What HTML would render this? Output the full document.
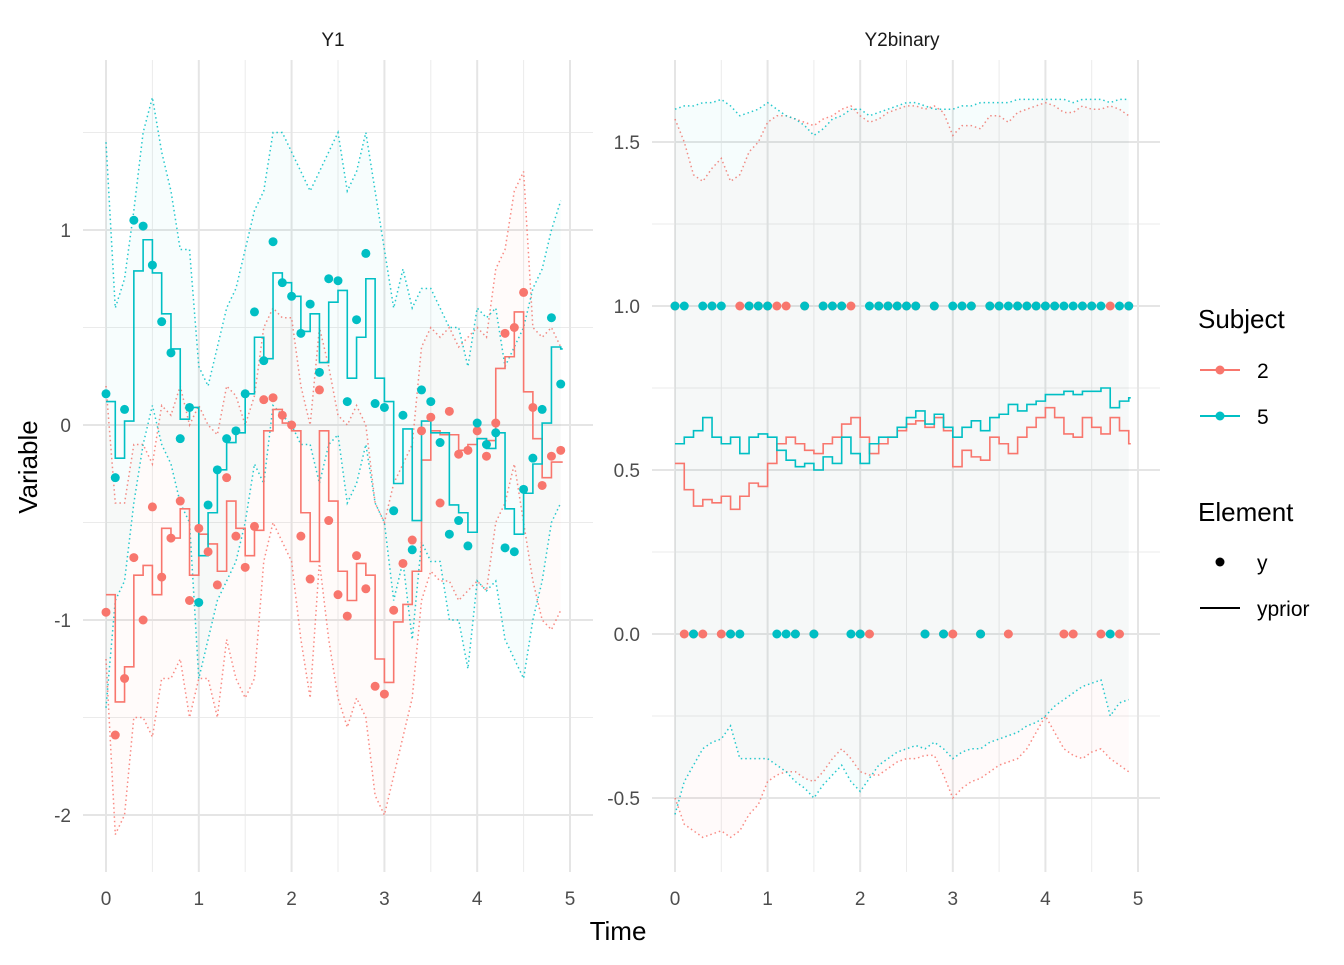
<!DOCTYPE html>
<html><head><meta charset="utf-8"><style>
html,body{margin:0;padding:0;background:#fff;}
svg text{font-family:"Liberation Sans",Arial,sans-serif;}
</style></head><body>
<svg id="chart" width="1344" height="960" viewBox="0 0 1344 960" xmlns="http://www.w3.org/2000/svg">
<rect width="1344" height="960" fill="#fff"/>
<g id="p1"></g>
<g id="p2"></g>
<text x="333" y="46" text-anchor="middle" font-size="19" fill="#1a1a1a">Y1</text>
<text x="902" y="46" text-anchor="middle" font-size="19" fill="#1a1a1a">Y2binary</text>
<text x="618" y="940" text-anchor="middle" font-size="26" fill="#000">Time</text>
<text transform="translate(37,467) rotate(-90)" text-anchor="middle" font-size="26" fill="#000">Variable</text>
<g>
<text x="1198" y="328" font-size="26" fill="#000">Subject</text>
<g><line x1="1200" y1="370" x2="1240" y2="370" stroke="#F8766D" stroke-width="2"/><circle cx="1220" cy="370" r="4.5" fill="#F8766D"/><text x="1257" y="378" font-size="21" fill="#000">2</text></g>
<g><line x1="1200" y1="416" x2="1240" y2="416" stroke="#00BFC4" stroke-width="2"/><circle cx="1220" cy="416" r="4.5" fill="#00BFC4"/><text x="1257" y="424" font-size="21" fill="#000">5</text></g>
<text x="1198" y="521" font-size="26" fill="#000">Element</text>
<g><circle cx="1220" cy="562" r="4.5" fill="#000"/><text x="1257" y="570" font-size="21" fill="#000">y</text></g>
<g><line x1="1200" y1="608" x2="1240" y2="608" stroke="#000" stroke-width="2"/><text x="1257" y="616" font-size="21" fill="#000">yprior</text></g>
</g>
</svg>
<script>
const times = [0,0.1,0.2,0.3,0.4,0.5,0.6,0.7,0.8,0.9,1,1.1,1.2,1.3,1.4,1.5,1.6,1.7,1.8,1.9,2,2.1,2.2,2.3,2.4,2.5,2.6,2.7,2.8,2.9,3,3.1,3.2,3.3,3.4,3.5,3.6,3.7,3.8,3.9,4,4.1,4.2,4.3,4.4,4.5,4.6,4.7,4.8,4.9];
const xTicks = [0,1,2,3,4,5];
const y1Ticks = [-2,-1,0,1];
const y2Ticks = [-0.5,0,0.5,1,1.5];
// Y1 panel
const y1PtsS5 = [0.16,-0.27,0.08,1.05,1.02,0.82,0.53,0.37,-0.07,0.09,-0.91,-0.41,-0.23,-0.07,-0.03,0.16,0.58,0.33,0.94,0.73,0.66,0.47,0.62,0.27,0.75,0.74,0.12,0.54,0.88,0.11,0.09,-0.44,0.05,-0.64,0.18,0.12,-0.09,-0.56,-0.49,-0.62,0.01,-0.1,-0.04,-0.63,-0.65,-0.33,-0.17,0.08,0.55,0.21];
const y1PtsS2 = [-0.96,-1.59,-1.3,-0.68,-1.0,-0.42,-0.78,-0.58,-0.39,-0.9,-0.53,-0.65,-0.82,-0.27,-0.57,-0.73,-0.52,0.13,0.14,0.05,0,-0.57,-0.79,0.18,-0.49,-0.87,-0.98,-0.67,-0.84,-1.34,-1.38,-0.95,-0.71,-0.59,-0.03,0.04,-0.4,0.07,-0.15,-0.13,-0.03,-0.16,0.01,0.47,0.5,0.68,0.09,-0.31,-0.16,-0.13];
const y1LineS5 = [0.12,-0.17,0.02,0.79,0.95,0.78,0.57,0.39,0.03,0.09,-0.67,-0.45,-0.23,-0.09,-0.04,0.16,0.45,0.34,0.78,0.73,0.66,0.48,0.57,0.32,0.63,0.69,0.24,0.45,0.75,0.24,0.12,-0.3,-0.02,-0.49,0.02,-0.04,-0.04,-0.41,-0.45,-0.55,-0.07,-0.12,-0.04,-0.43,-0.56,-0.35,-0.2,0.01,0.4,0.39];
const y1LineS2 = [-0.87,-1.42,-1.24,-0.77,-0.72,-0.87,-0.53,-0.58,-0.43,-0.77,-0.56,-0.61,-0.75,-0.39,-0.53,-0.67,-0.54,-0.03,0.08,0.01,-0.03,-0.45,-0.7,-0.03,-0.39,-0.75,-0.9,-0.71,-0.77,-1.2,-1.32,-1.01,-0.92,-0.75,-0.18,-0.03,-0.05,-0.05,-0.13,-0.1,-0.07,-0.08,0.29,0.35,0.58,0.17,-0.07,-0.27,-0.19,-0.19];
const y1UpS5 = [1.45,0.6,0.75,1.1,1.5,1.68,1.4,1.2,0.9,0.9,0.3,0.2,0.4,0.6,0.7,0.9,1.1,1.2,1.5,1.5,1.4,1.3,1.2,1.3,1.4,1.5,1.2,1.3,1.5,1.2,0.9,0.6,0.8,0.6,0.7,0.7,0.6,0.5,0.5,0.3,0.6,0.55,0.6,0.3,0.4,0.5,0.7,0.8,1.0,1.15];
const y1LoS5 = [-1.45,-0.9,-0.8,-0.4,-0.1,0.1,-0.1,-0.2,-0.4,-0.5,-1.3,-1.1,-0.9,-0.8,-0.7,-0.5,-0.2,-0.3,0.1,0.05,0,-0.1,-0.1,-0.3,-0.1,-0.05,-0.4,-0.3,-0.1,-0.4,-0.5,-0.9,-0.7,-1.1,-0.6,-0.7,-0.7,-1.0,-1.0,-1.25,-0.8,-0.85,-0.8,-1.1,-1.2,-1.3,-1.0,-0.8,-0.5,-0.4];
const y1UpS2 = [0.2,-0.4,-0.4,-0.1,-0.1,-0.2,0.1,0.05,0.2,0,0.1,0,-0.05,0.2,0.15,0,0.15,0.5,0.6,0.55,0.55,0.2,0,0.5,0.3,0.05,0,0.1,0,-0.4,-0.5,-0.3,-0.2,-0.1,0.4,0.5,0.45,0.5,0.4,0.45,0.5,0.45,0.8,0.9,1.2,1.3,0.5,0.45,0.5,0.4];
const y1LoS2 = [-1.2,-2.1,-2.0,-1.5,-1.5,-1.6,-1.3,-1.3,-1.2,-1.5,-1.3,-1.3,-1.5,-1.1,-1.3,-1.4,-1.3,-0.7,-0.5,-0.6,-0.7,-1.1,-1.4,-0.7,-1.1,-1.4,-1.55,-1.4,-1.5,-1.9,-2.0,-1.8,-1.6,-1.4,-0.9,-0.75,-0.8,-0.8,-0.9,-0.85,-0.8,-0.85,-0.5,-0.4,-0.2,-0.5,-0.8,-1.0,-1.05,-0.95];
// Y2binary panel
const y2PtsS5 = [1,1,0,1,1,1,0,0,1,1,1,0,0,0,1,0,1,1,1,0,0,1,1,1,1,1,1,0,1,0,1,1,1,0,1,1,1,1,1,1,1,1,1,1,1,1,1,0,1,1];
const y2PtsS2 = [1,0,0,0,1,0,0,1,1,1,1,1,1,0,1,0,1,1,1,1,0,0,1,1,1,1,1,0,1,0,0,1,1,0,1,1,0,1,1,1,1,1,0,0,1,1,0,1,0,1];
const y2LineS5 = [0.58,0.6,0.62,0.66,0.6,0.58,0.6,0.55,0.6,0.61,0.6,0.56,0.53,0.51,0.52,0.5,0.54,0.52,0.6,0.55,0.52,0.58,0.6,0.6,0.63,0.66,0.68,0.64,0.67,0.63,0.6,0.63,0.65,0.62,0.66,0.67,0.7,0.68,0.7,0.71,0.73,0.73,0.74,0.73,0.74,0.74,0.75,0.69,0.71,0.72];
const y2LineS2 = [0.52,0.44,0.39,0.41,0.4,0.42,0.38,0.42,0.46,0.45,0.52,0.58,0.6,0.58,0.56,0.55,0.58,0.6,0.64,0.66,0.6,0.55,0.58,0.6,0.62,0.64,0.65,0.63,0.66,0.62,0.51,0.56,0.54,0.53,0.6,0.58,0.55,0.6,0.63,0.66,0.69,0.66,0.61,0.6,0.66,0.63,0.61,0.66,0.62,0.58];
const y2UpS5 = [1.6,1.61,1.61,1.62,1.62,1.63,1.61,1.58,1.59,1.6,1.62,1.6,1.58,1.57,1.55,1.52,1.54,1.57,1.58,1.6,1.6,1.58,1.59,1.6,1.61,1.62,1.62,1.61,1.6,1.6,1.6,1.61,1.61,1.62,1.62,1.62,1.62,1.63,1.63,1.63,1.63,1.63,1.63,1.62,1.63,1.63,1.63,1.62,1.63,1.63];
const y2UpS2 = [1.57,1.5,1.4,1.38,1.42,1.45,1.38,1.4,1.47,1.5,1.56,1.58,1.58,1.57,1.56,1.55,1.57,1.58,1.6,1.61,1.58,1.56,1.57,1.59,1.6,1.61,1.61,1.6,1.61,1.59,1.52,1.55,1.55,1.54,1.58,1.58,1.56,1.59,1.6,1.61,1.62,1.61,1.59,1.59,1.61,1.6,1.6,1.61,1.6,1.58];
const y2LoS5 = [-0.55,-0.45,-0.4,-0.35,-0.33,-0.32,-0.28,-0.38,-0.38,-0.38,-0.38,-0.4,-0.42,-0.45,-0.47,-0.5,-0.46,-0.43,-0.4,-0.45,-0.48,-0.44,-0.4,-0.38,-0.36,-0.35,-0.34,-0.35,-0.33,-0.35,-0.38,-0.36,-0.35,-0.35,-0.33,-0.32,-0.31,-0.3,-0.28,-0.27,-0.25,-0.22,-0.2,-0.18,-0.16,-0.15,-0.14,-0.25,-0.21,-0.2];
const y2LoS2 = [-0.5,-0.58,-0.6,-0.62,-0.61,-0.6,-0.62,-0.6,-0.55,-0.52,-0.45,-0.43,-0.42,-0.42,-0.44,-0.45,-0.42,-0.38,-0.35,-0.38,-0.42,-0.43,-0.43,-0.41,-0.39,-0.38,-0.38,-0.37,-0.37,-0.43,-0.5,-0.47,-0.45,-0.44,-0.42,-0.4,-0.39,-0.38,-0.35,-0.3,-0.25,-0.3,-0.35,-0.37,-0.38,-0.36,-0.35,-0.38,-0.4,-0.42];

const RED = '#F8766D', TEAL = '#00BFC4';
const NS = 'http://www.w3.org/2000/svg';
function mk(parent, tag, attrs){ const e=document.createElementNS(NS,tag); for(const k in attrs) e.setAttribute(k,attrs[k]); parent.appendChild(e); return e; }

function drawPanel(g, px0, px1, t0px, t5px, yA, yAv, yB, yBv, yTicks, minorY, fmt, data, ribOp){
  const sx = t => t0px + (t5px - t0px) * t / 5;
  const sy = v => yA + (yB - yA) * (v - yAv) / (yBv - yAv);
  const top = 60, bot = 872;
  [0.5,1.5,2.5,3.5,4.5].forEach(t => {
    const l = mk(g,'line',{x1:sx(t),x2:sx(t),y1:top,y2:bot,stroke:'#ebebeb','stroke-width':1});
      });
  minorY.forEach(v => { const l = mk(g,'line',{x1:px0,x2:px1,y1:sy(v),y2:sy(v),stroke:'#ebebeb','stroke-width':1});
      });
  xTicks.forEach(t => { const l = mk(g,'line',{x1:sx(t),x2:sx(t),y1:top,y2:bot,stroke:'#e5e5e5','stroke-width':2});
     
    const tx = mk(g,'text',{x:sx(t),y:905,'text-anchor':'middle','font-size':19,fill:'#4d4d4d'}); tx.textContent = t;
      });
  yTicks.forEach(v => { const l = mk(g,'line',{x1:px0,x2:px1,y1:sy(v),y2:sy(v),stroke:'#e5e5e5','stroke-width':2});
     
    const tx = mk(g,'text',{x:px0-12,y:sy(v)+7,'text-anchor':'end','font-size':19,fill:'#4d4d4d'}); tx.textContent = fmt(v);
      });
  data.forEach(s => {
    let d = 'M'; times.forEach((t,i)=>{ d += (i?' L':'') + sx(t)+' '+sy(s.up[i]); });
    for (let i=times.length-1;i>=0;i--) d += ' L'+sx(times[i])+' '+sy(s.lo[i]);
    const rb = mk(g,'path',{d:d+' Z',fill:s.col,'fill-opacity':ribOp,stroke:'none'});
     
    [s.up, s.lo].forEach((arr,k) => {
      let p = ''; times.forEach((t,i)=>{ p += (i?' L':'M') + sx(t)+' '+sy(arr[i]); });
      const pl = mk(g,'path',{d:p,fill:'none',stroke:s.col,'stroke-width':1.5,'stroke-dasharray':'1.5 3','stroke-opacity':0.85});
       
    });
  });
  data.forEach(s => {
    let p = 'M'+sx(times[0])+' '+sy(s.line[0]);
    for (let i=1;i<times.length;i++) p += ' H'+sx(times[i])+' V'+sy(s.line[i]);
    p += ' H'+(sx(times[times.length-1])+2);
    const pl = mk(g,'path',{d:p,fill:'none',stroke:s.col,'stroke-width':1.6});
     
  });
  data.forEach(s => {
    times.forEach((t,i) => { const c = mk(g,'circle',{cx:sx(t),cy:sy(s.pts[i]),r:4.5,fill:s.col});
        });
  });
}
const f1 = v => String(v);
const f2 = v => v.toFixed(1);
drawPanel(document.getElementById('p1'), 83, 593, 106, 570, 230, 1, 425, 0, y1Ticks, [-1.5,-0.5,0.5,1.5], f1, [
  {name:'subject-2', col:RED, pts:y1PtsS2, line:y1LineS2, up:y1UpS2, lo:y1LoS2},
  {name:'subject-5', col:TEAL, pts:y1PtsS5, line:y1LineS5, up:y1UpS5, lo:y1LoS5}], 0.03);
drawPanel(document.getElementById('p2'), 652, 1160, 675, 1138, 306, 1, 634, 0, y2Ticks, [-0.25,0.25,0.75,1.25], f2, [
  {name:'subject-2', col:RED, pts:y2PtsS2, line:y2LineS2, up:y2UpS2, lo:y2LoS2},
  {name:'subject-5', col:TEAL, pts:y2PtsS5, line:y2LineS5, up:y2UpS5, lo:y2LoS5}], 0.035);
</script>
</body></html>
